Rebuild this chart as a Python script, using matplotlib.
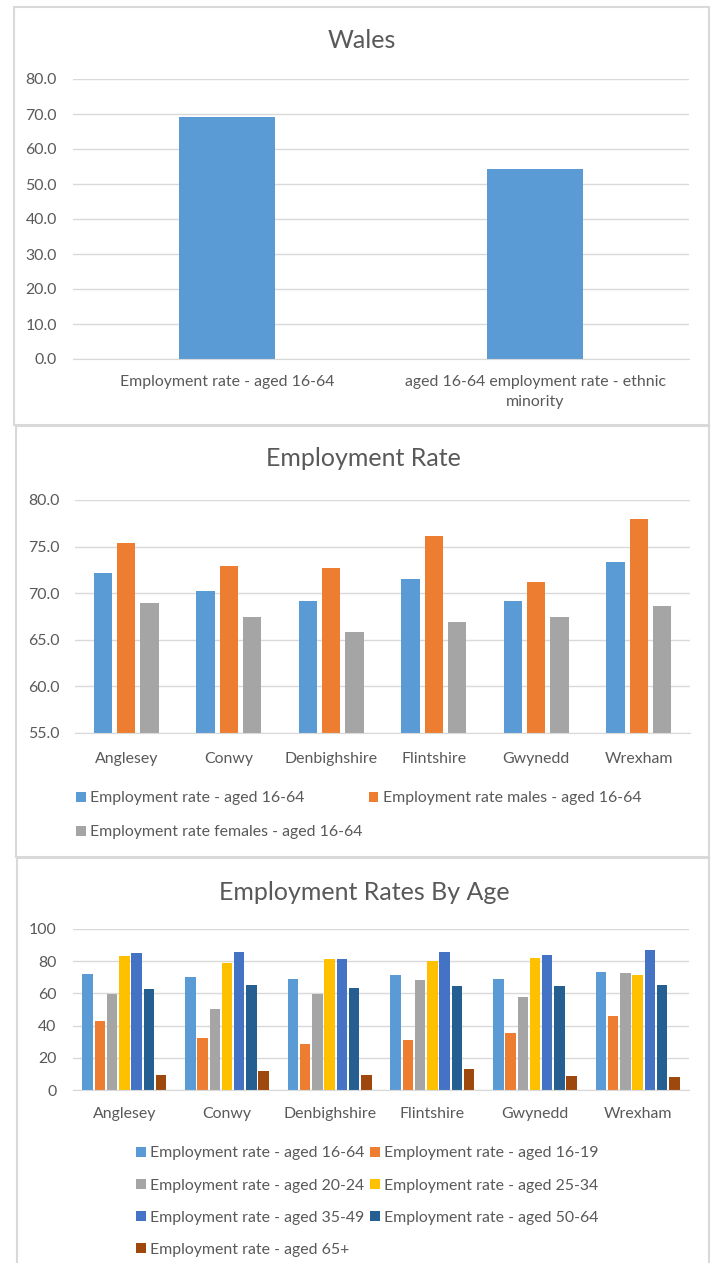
import matplotlib
matplotlib.use('Agg')
import matplotlib.pyplot as plt
from matplotlib.patches import Rectangle
import numpy as np

plt.rcParams['font.family'] = ['Lato', 'DejaVu Sans']

# Wales
wales_labels = ['Employment rate - aged 16-64', 'aged 16-64 employment rate - ethnic\nminority']
wales_values = [69.1, 54.2]

# Employment rate by county
counties = ['Anglesey', 'Conwy', 'Denbighshire', 'Flintshire', 'Gwynedd', 'Wrexham']
rate_all = [72.2, 70.2, 69.2, 71.5, 69.2, 73.3]
rate_males = [75.4, 72.9, 72.7, 76.1, 71.2, 78.0]
rate_females = [68.9, 67.5, 65.8, 66.9, 67.4, 68.6]

# Employment rate by age
age_groups = ['16-64', '16-19', '20-24', '25-34', '35-49', '50-64', '65+']
age_16_64 = [72.2, 70.2, 69.2, 71.5, 69.2, 73.3]
age_16_19 = [42.7, 32.6, 28.6, 30.9, 35.5, 45.8]
age_20_24 = [59.7, 50.2, 59.9, 68.2, 57.9, 72.6]
age_25_34 = [83.0, 79.0, 81.3, 80.1, 81.9, 71.5]
age_35_49 = [85.2, 85.9, 81.3, 85.9, 83.6, 87.1]
age_50_64 = [62.8, 65.3, 63.5, 64.7, 64.7, 65.3]
age_65 = [9.5, 11.8, 9.5, 13.1, 8.5, 7.9]

W, H = 711, 1263
TXT = '#595959'
GRID = '#D9D9D9'
FS = 11.4
colores3 = ['#5B9BD5', '#ED7D31', '#A5A5A5']
colores7 = ['#5B9BD5', '#ED7D31', '#A5A5A5', '#FFC000', '#4472C4', '#255E91', '#9E480E']

fig = plt.figure(figsize=(W / 100, H / 100), dpi=100)


def caja(x0, y0, x1, y1):
    fig.patches.append(Rectangle((x0 / W, 1 - y1 / H), (x1 - x0) / W, (y1 - y0) / H,
                                 transform=fig.transFigure, fill=False,
                                 edgecolor=GRID, linewidth=1.5))


def ejes(x0, y0, x1, y1):
    ax = fig.add_axes([x0 / W, 1 - y1 / H, (x1 - x0) / W, (y1 - y0) / H])
    for s in ['top', 'right', 'left']:
        ax.spines[s].set_visible(False)
    ax.spines['bottom'].set_color(GRID)
    ax.yaxis.grid(True, color=GRID, linewidth=1)
    ax.set_axisbelow(True)
    ax.tick_params(axis='both', length=0, colors=TXT, labelsize=FS)
    return ax


def titulo(texto, x, y):
    fig.text(x / W, 1 - y / H, texto, ha='center', va='center', fontsize=18, color=TXT)


def leyenda(ax, handles, labels, anchor, ls, cs):
    ax.legend(handles, labels, ncol=2, loc='upper left', bbox_to_anchor=anchor, frameon=False,
              fontsize=FS, labelcolor=TXT, handlelength=0.6, handleheight=0.6,
              handletextpad=0.3, columnspacing=cs, labelspacing=ls,
              borderaxespad=0, borderpad=0)


# ---- panel 1
caja(14, 7, 709, 425)
titulo('Wales', 362, 41)
ax1 = ejes(73, 79, 689, 359)
x = np.arange(len(wales_values))
ax1.bar(x, wales_values, width=0.31, color=colores3[0])
ax1.set_xlim(-0.5, 1.5)
ax1.set_ylim(0, 80)
ax1.set_yticks(np.arange(0, 81, 10))
ax1.set_yticklabels(['%.1f' % v for v in np.arange(0, 81, 10)])
ax1.set_xticks(x)
ax1.set_xticklabels(wales_labels, linespacing=1.55)
ax1.tick_params(axis='x', pad=11.5)
ax1.tick_params(axis='y', pad=11.5)

# ---- panel 2
caja(16, 426, 709, 857)
titulo('Employment Rate', 363, 459)
ax2 = ejes(75, 500, 690, 733)
x = np.arange(len(counties))
series2 = [('Employment rate - aged 16-64', rate_all),
           ('Employment rate males - aged 16-64', rate_males),
           ('Employment rate females - aged 16-64', rate_females)]
paso = 0.225
barras2 = []
for i, (nombre, vals) in enumerate(series2):
    barras2.append(ax2.bar(x + (i - 1) * paso, vals, width=0.18, color=colores3[i]))
ax2.set_xlim(-0.5, 5.5)
ax2.set_ylim(55, 80)
ax2.set_yticks(np.arange(55, 81, 5))
ax2.set_yticklabels(['%.1f' % v for v in np.arange(55, 81, 5)])
ax2.set_xticks(x)
ax2.set_xticklabels(counties)
ax2.tick_params(axis='x', pad=14)
ax2.tick_params(axis='y', pad=11)
orden2 = [0, 2, 1]
leyenda(ax2, [barras2[i] for i in orden2], [series2[i][0] for i in orden2],
        (1 / 615, -0.251), 1.26, 0.4)

# ---- panel 3
caja(17, 858, 709, 1275)
titulo('Employment Rates By Age', 364, 892)
ax3 = ejes(73, 929, 689, 1090)
series7 = [age_16_64, age_16_19, age_20_24, age_25_34, age_35_49, age_50_64, age_65]
paso = 0.119
barras = []
for i, vals in enumerate(series7):
    barras.append(ax3.bar(x + (i - 3) * paso, vals, width=0.101, color=colores7[i]))
ax3.set_xlim(-0.5, 5.5)
ax3.set_ylim(0, 100)
ax3.set_yticks(np.arange(0, 101, 20))
ax3.set_xticks(x)
ax3.set_xticklabels(counties)
ax3.tick_params(axis='x', pad=12.5)
ax3.tick_params(axis='y', pad=12)
orden = [0, 2, 4, 6, 1, 3, 5]
leyenda(ax3, [barras[i] for i in orden], ['Employment rate - aged ' + age_groups[i] for i in orden],
        (63 / 616, -0.35), 1.15, 0.35)

fig.savefig('out.png', dpi=100)
